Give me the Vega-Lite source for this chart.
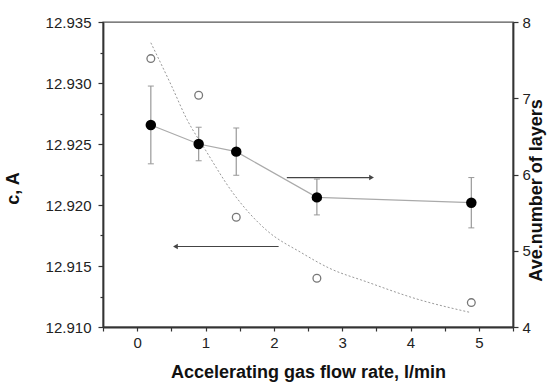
{
  "$schema": "https://vega.github.io/schema/vega-lite/v6.json",
  "width": 410,
  "height": 305,
  "autosize": {"type": "none"},
  "padding": {"left": 103, "top": 22, "right": 37, "bottom": 56},
  "background": "white",
  "config": {
    "font": "Liberation Sans",
    "view": {"stroke": "#555", "strokeWidth": 1.4},
    "axis": {
      "grid": false,
      "domainColor": "#333",
      "domainWidth": 1.8,
      "tickColor": "#333",
      "tickWidth": 1.2,
      "tickSize": 4,
      "labelFont": "Liberation Sans",
      "labelFontSize": 15,
      "labelColor": "#222",
      "titleFont": "Liberation Sans",
      "titleFontSize": 18,
      "titleFontWeight": "bold",
      "titleColor": "#111"
    }
  },
  "datasets": {
    "copen": [
      {"x": 0.2, "c": 12.932},
      {"x": 0.9, "c": 12.929},
      {"x": 1.45, "c": 12.919},
      {"x": 2.63, "c": 12.914},
      {"x": 4.89, "c": 12.912}
    ],
    "curve": [
      {"x": 0.2, "c": 12.9333},
      {"x": 0.5, "c": 12.9298},
      {"x": 0.73, "c": 12.9270},
      {"x": 1.0, "c": 12.9245},
      {"x": 1.4, "c": 12.9210},
      {"x": 1.9, "c": 12.9179},
      {"x": 2.4, "c": 12.9161},
      {"x": 2.82, "c": 12.9148},
      {"x": 3.36, "c": 12.9137},
      {"x": 4.09, "c": 12.9123},
      {"x": 4.87, "c": 12.9112}
    ],
    "larrow": [{"x": 0.56, "xe": 2.07, "c": 12.9166}],
    "layers": [
      {"x": 0.2, "n": 6.65, "lo": 6.14, "hi": 7.16},
      {"x": 0.9, "n": 6.40, "lo": 6.18, "hi": 6.62},
      {"x": 1.45, "n": 6.30, "lo": 5.99, "hi": 6.61},
      {"x": 2.63, "n": 5.70, "lo": 5.47, "hi": 5.94},
      {"x": 4.89, "n": 5.63, "lo": 5.30, "hi": 5.96}
    ],
    "rarrow": [{"x": 3.43, "xe": 2.19, "n": 5.96}]
  },
  "encoding": {
    "x": {
      "field": "x", "type": "quantitative",
      "scale": {"domain": [-0.5, 5.5], "nice": false, "zero": false},
      "axis": {
        "orient": "bottom",
        "title": "Accelerating gas flow rate, l/min",
        "tickCount": 12,
        "labelExpr": "datum.value % 1 == 0 ? format(datum.value, 'd') : ''",
        "labelPadding": 4,
        "titlePadding": 13
      }
    }
  },
  "layer": [
    {
      "encoding": {
        "y": {
          "field": "c", "type": "quantitative",
          "scale": {"domain": [12.91, 12.935], "nice": false, "zero": false},
          "axis": {
            "orient": "left",
            "title": "c, A",
            "values": [12.91, 12.9125, 12.915, 12.9175, 12.92, 12.9225, 12.925, 12.9275, 12.93, 12.9325, 12.935],
            "format": ".3f",
            "labelExpr": "round(datum.value * 10000) % 50 == 0 ? datum.label : ''",
            "tickSize": {"condition": {"test": "round(datum.value * 10000) % 50 == 0", "value": 5}, "value": 3},
            "labelPadding": 7,
            "titleAngle": 270,
            "titleBaseline": "bottom",
            "titleAlign": "center",
            "titleX": -81,
            "titleY": 166
          }
        }
      },
      "layer": [
        {
          "data": {"name": "curve"},
          "mark": {"type": "line", "interpolate": "monotone", "strokeDash": [2, 2], "stroke": "#999", "strokeWidth": 1}
        },
        {
          "data": {"name": "copen"},
          "mark": {"type": "point", "shape": "circle", "filled": false, "stroke": "#777", "strokeWidth": 1.3, "size": 60, "opacity": 1}
        },
        {
          "data": {"name": "larrow"},
          "mark": {"type": "rule", "stroke": "#444", "strokeWidth": 1.2},
          "encoding": {"x2": {"field": "xe"}}
        },
        {
          "data": {"name": "larrow"},
          "mark": {"type": "point", "shape": "triangle-left", "filled": true, "color": "#444", "size": 30, "opacity": 1}
        }
      ]
    },
    {
      "layer": [
        {
          "data": {"name": "layers"},
          "mark": {"type": "line", "stroke": "#aaa", "strokeWidth": 1.2},
          "encoding": {
            "y": {
              "field": "n", "type": "quantitative",
              "scale": {"domain": [4, 8], "nice": false, "zero": false},
              "axis": {
                "orient": "right",
                "title": "Ave.number of layers",
                "values": [4, 4.5, 5, 5.5, 6, 6.5, 7, 7.5, 8],
                "format": "d",
                "labelExpr": "datum.value % 1 == 0 ? datum.label : ''",
                "tickSize": {"condition": {"test": "datum.value % 1 == 0", "value": 5}, "value": 3},
                "labelPadding": 4,
                "titleAngle": 270,
                "titleBaseline": "bottom",
                "titleAlign": "center",
                "titleX": 32,
                "titleY": 168
              }
            }
          }
        },
        {
          "data": {"name": "layers"},
          "mark": {"type": "rule", "stroke": "#999", "strokeWidth": 1.2},
          "encoding": {
            "y": {"field": "lo", "type": "quantitative", "title": "Ave.number of layers", "scale": {"domain": [4, 8], "nice": false, "zero": false}},
            "y2": {"field": "hi"}
          }
        },
        {
          "data": {"name": "layers"},
          "mark": {"type": "tick", "orient": "horizontal", "size": 6, "thickness": 1, "color": "#999", "opacity": 1},
          "encoding": {
            "y": {"field": "lo", "type": "quantitative", "title": "Ave.number of layers", "scale": {"domain": [4, 8], "nice": false, "zero": false}}
          }
        },
        {
          "data": {"name": "layers"},
          "mark": {"type": "tick", "orient": "horizontal", "size": 6, "thickness": 1, "color": "#999", "opacity": 1},
          "encoding": {
            "y": {"field": "hi", "type": "quantitative", "title": "Ave.number of layers", "scale": {"domain": [4, 8], "nice": false, "zero": false}}
          }
        },
        {
          "data": {"name": "layers"},
          "mark": {"type": "point", "shape": "circle", "filled": true, "color": "#000", "size": 110, "opacity": 1},
          "encoding": {
            "y": {"field": "n", "type": "quantitative", "title": "Ave.number of layers", "scale": {"domain": [4, 8], "nice": false, "zero": false}}
          }
        },
        {
          "data": {"name": "rarrow"},
          "mark": {"type": "rule", "stroke": "#444", "strokeWidth": 1.2},
          "encoding": {
            "x2": {"field": "xe"},
            "y": {"field": "n", "type": "quantitative", "title": "Ave.number of layers", "scale": {"domain": [4, 8], "nice": false, "zero": false}}
          }
        },
        {
          "data": {"name": "rarrow"},
          "mark": {"type": "point", "shape": "triangle-right", "filled": true, "color": "#444", "size": 30, "opacity": 1},
          "encoding": {
            "y": {"field": "n", "type": "quantitative", "title": "Ave.number of layers", "scale": {"domain": [4, 8], "nice": false, "zero": false}}
          }
        }
      ]
    }
  ],
  "resolve": {"scale": {"y": "independent"}}
}
